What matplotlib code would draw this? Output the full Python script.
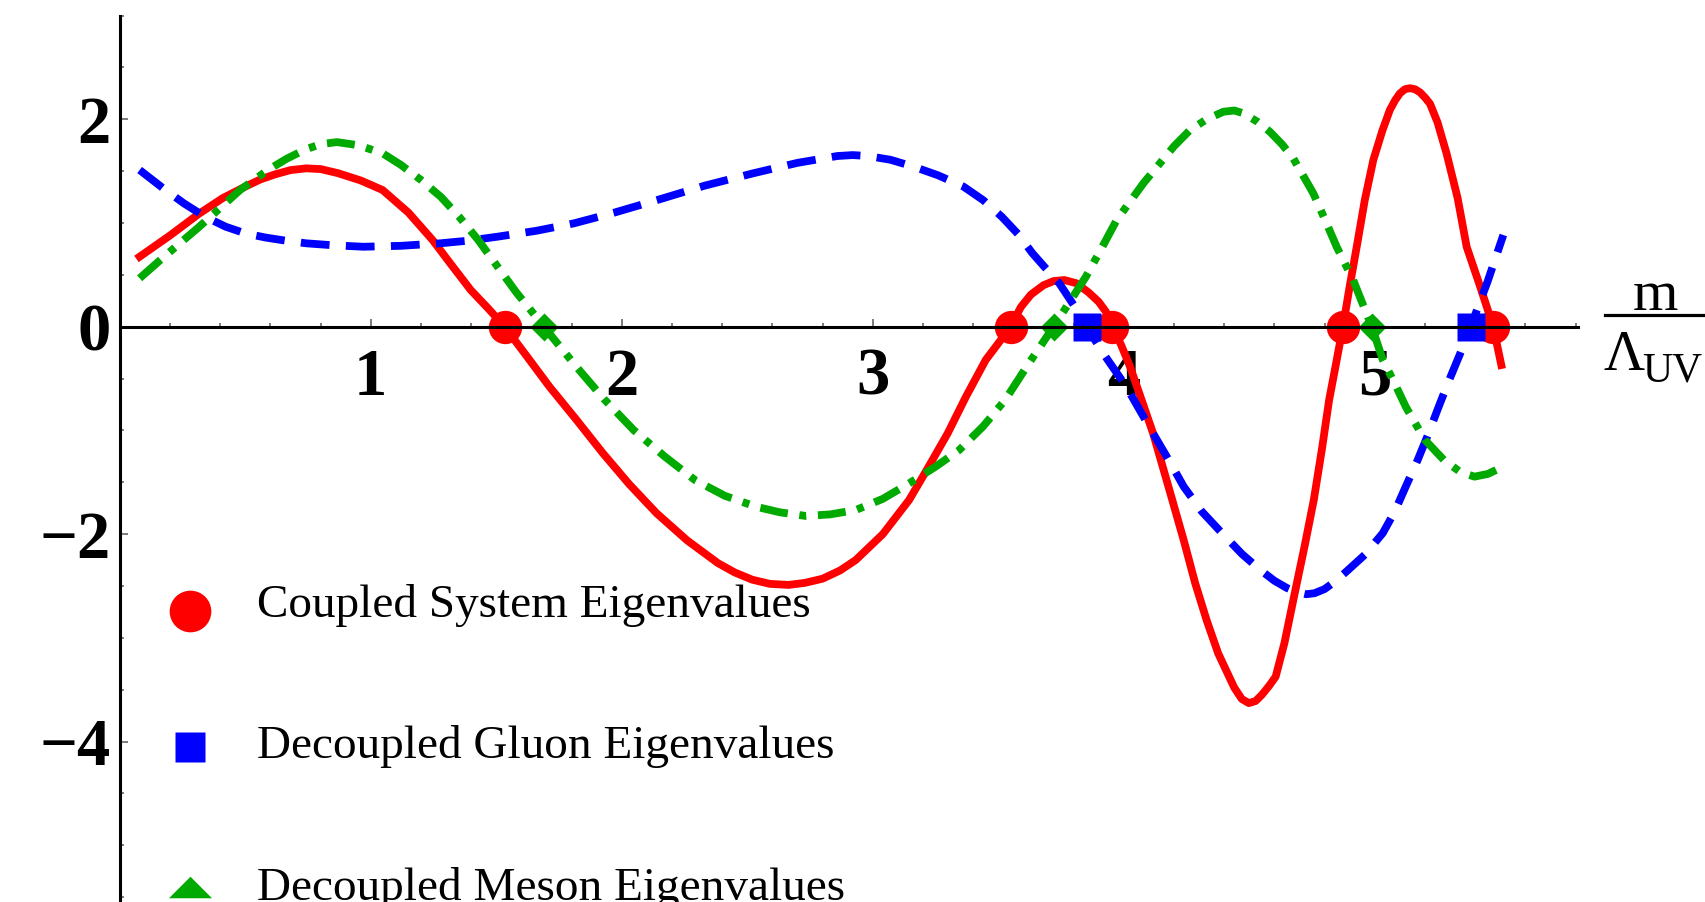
import matplotlib
matplotlib.use("Agg")
import matplotlib.pyplot as plt
from matplotlib.lines import Line2D
from matplotlib.path import Path
import numpy as np

plt.rcParams["font.family"] = ["Liberation Serif", "DejaVu Serif"]

# 曲线数据
red_x = [0.079, 0.20, 0.316, 0.41, 0.499, 0.56, 0.62, 0.68, 0.743, 0.80, 0.87, 0.96,
         1.047, 1.15, 1.246, 1.32, 1.398, 1.47, 1.533, 1.62, 1.712, 1.82, 1.925, 2.03,
         2.139, 2.26, 2.383, 2.45, 2.52, 2.59, 2.665, 2.73, 2.80, 2.87, 2.932, 3.04,
         3.145, 3.22, 3.298, 3.37, 3.45, 3.50, 3.549, 3.59, 3.63, 3.68, 3.72, 3.763,
         3.81, 3.86, 3.90, 3.93, 3.956, 3.99, 4.025, 4.07, 4.117, 4.155, 4.193, 4.24,
         4.284, 4.33, 4.376, 4.44, 4.47, 4.498, 4.525, 4.55, 4.58, 4.605, 4.64, 4.681,
         4.72, 4.757, 4.79, 4.818, 4.846, 4.873, 4.90, 4.928, 4.96, 4.994, 5.03, 5.06,
         5.08, 5.10, 5.12, 5.14, 5.16, 5.18, 5.20, 5.22, 5.25, 5.286, 5.33, 5.366,
         5.42, 5.472, 5.504]
red_y = [0.675, 0.88, 1.09, 1.24, 1.35, 1.42, 1.47, 1.51, 1.527, 1.52, 1.48, 1.41,
         1.318, 1.10, 0.836, 0.60, 0.354, 0.17, 0.0, -0.28, -0.579, -0.90, -1.221, -1.52,
         -1.80, -2.06, -2.28, -2.37, -2.44, -2.48, -2.49, -2.47, -2.43, -2.35, -2.25, -2.00,
         -1.67, -1.36, -1.03, -0.68, -0.32, -0.16, 0.0, 0.19, 0.31, 0.40, 0.44, 0.45,
         0.42, 0.33, 0.24, 0.14, 0.0, -0.18, -0.386, -0.70, -1.03, -1.35, -1.67, -2.07,
         -2.47, -2.83, -3.15, -3.48, -3.59, -3.63, -3.61, -3.55, -3.46, -3.375, -3.05, -2.57,
         -2.12, -1.67, -1.17, -0.707, -0.35, 0.0, 0.39, 0.771, 1.22, 1.607, 1.89, 2.09,
         2.18, 2.25, 2.29, 2.30, 2.29, 2.26, 2.21, 2.15, 1.97, 1.67, 1.24, 0.77,
         0.385, 0.0, -0.37]

blue_x = [0.079, 0.17, 0.255, 0.34, 0.422, 0.50, 0.58, 0.66, 0.743, 0.85, 0.971, 1.12,
          1.276, 1.39, 1.505, 1.66, 1.81, 1.97, 2.142, 2.33, 2.523, 2.70, 2.859, 2.92,
          2.98, 3.07, 3.163, 3.26, 3.362, 3.44, 3.514, 3.58, 3.636, 3.69, 3.743, 3.80,
          3.852, 3.918, 4.01, 4.117, 4.18, 4.239, 4.31, 4.391, 4.47, 4.544, 4.60, 4.65,
          4.69, 4.727, 4.76, 4.80, 4.84, 4.879, 4.96, 5.032, 5.08, 5.123, 5.17, 5.214,
          5.25, 5.291, 5.34, 5.382, 5.45, 5.512]
blue_y = [1.511, 1.34, 1.19, 1.06, 0.964, 0.90, 0.86, 0.83, 0.804, 0.785, 0.771, 0.78,
          0.804, 0.83, 0.868, 0.925, 0.997, 1.10, 1.222, 1.36, 1.479, 1.58, 1.646, 1.655,
          1.646, 1.61, 1.543, 1.46, 1.35, 1.22, 1.06, 0.89, 0.708, 0.56, 0.418, 0.21,
          0.0, -0.257, -0.579, -1.03, -1.29, -1.543, -1.78, -1.99, -2.19, -2.346, -2.45, -2.52,
          -2.56, -2.58, -2.57, -2.53, -2.46, -2.378, -2.20, -1.99, -1.78, -1.543, -1.29, -1.03,
          -0.80, -0.546, -0.26, 0.0, 0.44, 0.884]

green_x = [0.079, 0.16, 0.239, 0.31, 0.376, 0.48, 0.59, 0.665, 0.74, 0.80, 0.865, 0.95,
           1.047, 1.12, 1.2, 1.28, 1.352, 1.43, 1.505, 1.58, 1.657, 1.689, 1.75, 1.819,
           1.93, 2.047, 2.17, 2.291, 2.41, 2.535, 2.63, 2.733, 2.83, 2.932, 3.04, 3.145,
           3.25, 3.344, 3.44, 3.527, 3.62, 3.72, 3.79, 3.849, 3.91, 3.972, 4.078, 4.144,
           4.20, 4.264, 4.33, 4.397, 4.44, 4.476, 4.53, 4.582, 4.63, 4.675, 4.755, 4.80,
           4.848, 4.914, 4.95, 4.988, 5.032, 5.08, 5.123, 5.199, 5.275, 5.34, 5.397, 5.45,
           5.512]
green_y = [0.467, 0.64, 0.804, 0.95, 1.093, 1.32, 1.511, 1.62, 1.71, 1.76, 1.78, 1.75,
           1.672, 1.56, 1.415, 1.25, 1.06, 0.83, 0.579, 0.33, 0.1, 0.0, -0.18, -0.386,
           -0.70, -0.996, -1.25, -1.478, -1.63, -1.736, -1.79, -1.825, -1.81, -1.768, -1.66, -1.51,
           -1.35, -1.19, -0.96, -0.707, -0.36, 0.0, 0.26, 0.482, 0.75, 1.03, 1.383, 1.576,
           1.74, 1.897, 2.00, 2.073, 2.085, 2.058, 1.98, 1.88, 1.76, 1.624, 1.286, 1.04,
           0.771, 0.45, 0.23, 0.0, -0.32, -0.55, -0.77, -1.09, -1.285, -1.40, -1.446, -1.42,
           -1.35]

# 零点 (本征值)
red_zeros = [1.533, 3.549, 3.954, 4.873, 5.472]
blue_zeros = [3.852, 5.382]
green_zeros = [1.689, 3.72, 4.988]

x_ticks = [1, 2, 3, 4, 5]
y_ticks = [-4, -2, 0, 2]
legend_labels = ["Coupled System Eigenvalues",
                 "Decoupled Gluon Eigenvalues",
                 "Decoupled Meson Eigenvalues"]

RED = "#FF0000"
BLUE = "#0000FF"
GREEN = "#00AA00"

W, H = 1705, 902
fig = plt.figure(figsize=(W / 100, H / 100), dpi=100)
ax = fig.add_axes([0, 0, 1, 1])
ax.patch.set_alpha(0)

# 像素 -> 数据坐标: x=0 在 119.8px, 251 px/单位; y=0 在 326.7px, 103.7 px/单位
x0, sx = 119.8, 251.0
y0, sy = 326.7, 103.7
ax.set_xlim(-x0 / sx, (W - x0) / sx)
ax.set_ylim(-(H - y0) / sy, y0 / sy)

lw = 5.6
ax.plot(red_x, red_y, color=RED, lw=lw, zorder=2, solid_joinstyle="round")
ax.plot(blue_x, blue_y, color=BLUE, lw=lw, dashes=(3.7, 2.1), zorder=3)
ax.plot(green_x, green_y, color=GREEN, lw=lw, dashes=(3.6, 1.5, 0.9, 1.5), zorder=4)

ax.plot(red_zeros, np.zeros(len(red_zeros)), "o", color=RED, ms=24, mec="none", zorder=5)
ax.plot(blue_zeros, np.zeros(len(blue_zeros)), "s", color=BLUE, ms=20, mec="none", zorder=6)
ax.plot(green_zeros, np.zeros(len(green_zeros)), "D", color=GREEN, ms=14, mec="none", zorder=7)

# 坐标轴
for side in ["top", "right"]:
    ax.spines[side].set_visible(False)
ax.spines["left"].set_position(("data", 0))
ax.spines["bottom"].set_position(("data", 0))
ax.spines["left"].set_bounds(-(H - y0) / sy, 3.0)
ax.spines["bottom"].set_bounds(0, 5.81)
for side in ["left", "bottom"]:
    ax.spines[side].set_linewidth(2.2)
    ax.spines[side].set_zorder(10)

ax.set_xticks(x_ticks)
ax.set_xticks(np.arange(0.2, 5.81, 0.2), minor=True)
ax.set_yticks(y_ticks)
ax.set_yticks(np.arange(-5.5, 3.01, 0.5), minor=True)
ax.set_xticklabels([str(v) for v in x_ticks])
ax.set_yticklabels([str(v).replace("-", "\u2212") for v in y_ticks])
ax.tick_params(which="both", direction="in", color="#666666", width=1.2)
ax.tick_params(which="major", length=5.5)
ax.tick_params(which="minor", length=3)
ax.tick_params(axis="x", which="major", pad=15)
ax.tick_params(axis="y", which="major", pad=6.5)
for lab in ax.get_xticklabels() + ax.get_yticklabels():
    lab.set_fontsize(48)
    lab.set_fontweight("bold")


def fx(px):
    return px / W


def fy(py):
    return 1 - py / H


# 轴标签 m / Λ_UV
fig.text(fx(1655), fy(310), "m", fontsize=42, ha="center", va="baseline")
fig.add_artist(Line2D([fx(1605), fx(1710)], [fy(315), fy(315)], color="black", lw=2.3))
fig.text(fx(1604), fy(370), "Λ", fontsize=41, ha="left", va="baseline")
fig.text(fx(1642), fy(381), "UV", fontsize=30, ha="left", va="baseline")

# 图例
tri = Path([(-1, -0.5), (1, -0.5), (0, 0.5), (-1, -0.5)],
           [Path.MOVETO, Path.LINETO, Path.LINETO, Path.CLOSEPOLY])
fig.add_artist(Line2D([fx(189.5)], [fy(611)], marker="o", ms=30, color=RED, mec="none"))
fig.add_artist(Line2D([fx(189.5)], [fy(747)], marker="s", ms=21.5, color=BLUE, mec="none"))
fig.add_artist(Line2D([fx(190)], [fy(887)], marker=tri, ms=31, color=GREEN, mec="none"))
for label, base in zip(legend_labels, [617, 758, 900]):
    fig.text(fx(257), fy(base), label, fontsize=34, ha="left", va="baseline")

plt.savefig("out.png", dpi=100)
